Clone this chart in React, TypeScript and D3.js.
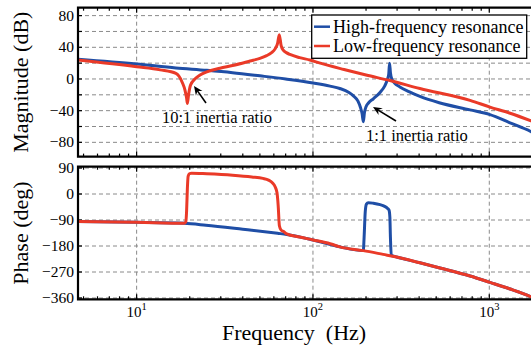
import React from "react";
import * as d3 from "d3";

// ---------- data ----------
const seriesNames = ["High-frequency resonance", "Low-frequency resonance"];
const seriesColors = ["#1f4ea6", "#ea3a28"];

const blueMagFreq = [4.64, 10, 16.7, 25, 35, 50, 70, 100, 125, 142, 160, 169, 180, 186, 190, 193, 196, 200, 207, 220, 240, 255, 264, 269, 272, 275, 280, 290, 311, 350, 404, 520, 778, 1009, 1300, 1726, 2070];
const blueMagDb = [25, 19, 14, 11, 8, 4, 0, -5, -9, -12, -17, -21, -28, -36, -44, -54, -42, -35, -30, -25, -17, -9, -1, 6, 20, 8, 0, -5, -10, -16, -22, -30, -39, -45, -55, -66.5, -76];

const redMagFreq = [4.64, 10, 13.6, 16.7, 18.2, 18.8, 19.2, 19.4, 19.7, 20.2, 21.4, 22.9, 25, 29.7, 35, 44, 50, 54.6, 58, 61, 63, 64.4, 66, 68, 71, 74, 84, 96, 110, 150, 200, 273, 404, 778, 1009, 1300, 1726, 2070];
const redMagDb = [24, 15.5, 11.5, 7, -5, -14, -24, -31, -20, -8, 0, 5, 9, 13.5, 17, 22.7, 26, 29.5, 33, 38, 45, 56, 42, 36, 33, 31, 27, 24, 20, 12, 5, -2, -12, -27, -35.5, -43, -53, -60];

const bluePhaseFreq = [4.64, 10, 18.6, 24.7, 40, 63, 71, 100, 142, 193, 195, 198, 201, 206, 220, 240, 255, 265, 270, 273, 275, 278, 283, 298, 404, 525, 778, 1009, 1300, 1726, 2070];
const bluePhaseDeg = [-95.5, -98, -101.5, -108, -122, -136, -140, -159, -183, -196, -150, -60, -35, -30, -32, -37, -43, -50, -56, -80, -150, -212, -214, -218, -238, -256, -284, -306, -328, -356, -380];

const redPhaseFreq = [4.64, 10, 18.6, 19.0, 19.2, 19.4, 19.6, 19.9, 20.5, 25, 35, 45, 52, 56, 59, 61, 62.5, 63.5, 64.5, 66, 68.2, 71, 84, 100, 125, 142, 193, 250, 298, 404, 525, 778, 1009, 1300, 1726, 2070];
const redPhaseDeg = [-95.5, -98, -101.5, -97, -60, 20, 62, 70, 72, 70, 65, 59, 54, 48, 38, 25, 5, -40, -110, -125, -130, -138, -149, -159, -172, -183, -196, -209, -218, -238, -256, -284, -306, -328, -356, -380];

const magTicks = [80, 40, 0, -40, -80];
const magGrid = [80, 60, 40, 20, 0, -20, -40, -60, -80];
const phaseTicks = [90, 0, -90, -180, -270, -360];
const xTickExps = [1, 2, 3];
const annotations = ["10:1 inertia ratio", "1:1 inertia ratio"];

// ---------- layout ----------
const W = 531, H = 347;
const X0 = 78, X1 = 545;
const MAG_TOP = 7.7, MAG_BOT = 156.6;
const PH_TOP = 166.7, PH_BOT = 299.3;

const x = d3.scaleLog().domain([Math.pow(10, 0.6675), Math.pow(10, 1 + (X1 - 136.7) / 176.3)]).range([X0, X1]);
const yMag = d3.scaleLinear().domain([-98, 90]).range([MAG_BOT, MAG_TOP]);
const yPh = d3.scaleLinear().domain([-364.5, 94.5]).range([PH_BOT, PH_TOP]);

const FONT = "'Liberation Serif', 'Times New Roman', serif";

function zip(f: number[], v: number[]): [number, number][] {
  return f.map((d, i) => [d, v[i]]);
}

function minorTicks(): number[] {
  const out: number[] = [];
  const [a, b] = x.domain();
  for (let e = 0; e <= 3; e++) {
    for (let m = 1; m <= 9; m++) {
      const v = m * Math.pow(10, e);
      if (v >= a && v <= b) out.push(v);
    }
  }
  return out;
}

function Panel({ top, bot, y, grid, lines }: { top: number; bot: number; y: d3.ScaleLinear<number, number>; grid: number[]; lines: { d: string; color: string }[] }) {
  const clipId = "clip" + Math.round(top);
  const mt = minorTicks();
  return (
    <g>
      <defs>
        <clipPath id={clipId}>
          <rect x={X0} y={top} width={X1 - X0} height={bot - top} />
        </clipPath>
      </defs>
      <rect x={X0} y={top} width={X1 - X0} height={bot - top} fill="#fff" />
      {grid.map((g) => (
        <line key={"h" + g} x1={X0} x2={X1} y1={y(g)} y2={y(g)} stroke="#8a8a8a" strokeWidth={1} strokeDasharray="4 3" />
      ))}
      {xTickExps.map((e) => (
        <line key={"v" + e} x1={x(Math.pow(10, e))} x2={x(Math.pow(10, e))} y1={top} y2={bot} stroke="#8a8a8a" strokeWidth={1} strokeDasharray="4 3" />
      ))}
      {mt.map((v, i) => {
        const major = Math.abs(Math.log10(v) - Math.round(Math.log10(v))) < 1e-9;
        const len = major ? 5 : 3;
        return (
          <g key={"t" + i}>
            <line x1={x(v)} x2={x(v)} y1={top} y2={top + len} stroke="#000" strokeWidth={1.2} />
            <line x1={x(v)} x2={x(v)} y1={bot} y2={bot - len} stroke="#000" strokeWidth={1.2} />
          </g>
        );
      })}
      {grid.map((g) => (
        <line key={"lt" + g} x1={X0} x2={X0 + 4} y1={y(g)} y2={y(g)} stroke="#000" strokeWidth={1.2} />
      ))}
      <g clipPath={`url(#${clipId})`}>
        {lines.map((l, i) => (
          <path key={i} d={l.d} fill="none" stroke={l.color} strokeWidth={3} strokeLinejoin="round" strokeLinecap="round" />
        ))}
      </g>
      <path d={`M${X1},${top}H${X0}V${bot}H${X1}`} fill="none" stroke="#000" strokeWidth={2.2} />
    </g>
  );
}

function Arrow({ x1, y1, x2, y2 }: { x1: number; y1: number; x2: number; y2: number }) {
  const ang = Math.atan2(y2 - y1, x2 - x1);
  const L = 9, Wd = 4;
  const bx = x2 - L * Math.cos(ang), by = y2 - L * Math.sin(ang);
  const px = -Math.sin(ang) * Wd, py = Math.cos(ang) * Wd;
  const nx = x2 - 6 * Math.cos(ang), ny = y2 - 6 * Math.sin(ang);
  return (
    <g>
      <line x1={x1} y1={y1} x2={nx} y2={ny} stroke="#000" strokeWidth={1.6} />
      <path d={`M${x2},${y2}L${bx + px},${by + py}L${nx},${ny}L${bx - px},${by - py}Z`} fill="#000" />
    </g>
  );
}

export default function App() {
  const lineMag = d3.line<[number, number]>().x((d) => x(d[0])).y((d) => yMag(d[1])).curve(d3.curveMonotoneX);
  const linePh = d3.line<[number, number]>().x((d) => x(d[0])).y((d) => yPh(d[1])).curve(d3.curveMonotoneX);

  const magLines = [
    { d: lineMag(zip(blueMagFreq, blueMagDb)) || "", color: seriesColors[0] },
    { d: lineMag(zip(redMagFreq, redMagDb)) || "", color: seriesColors[1] },
  ];
  const phLines = [
    { d: linePh(zip(bluePhaseFreq, bluePhaseDeg)) || "", color: seriesColors[0] },
    { d: linePh(zip(redPhaseFreq, redPhaseDeg)) || "", color: seriesColors[1] },
  ];

  const fmt = (v: number) => (v < 0 ? "\u2212" + Math.abs(v) : String(v));

  return (
    <svg width={W} height={H} style={{ position: "absolute", left: 0, top: 0, background: "#fff" }} fontFamily={FONT}>
      <Panel top={MAG_TOP} bot={MAG_BOT} y={yMag} grid={magGrid} lines={magLines} />
      <Panel top={PH_TOP} bot={PH_BOT} y={yPh} grid={phaseTicks} lines={phLines} />

      {magTicks.map((t) => (
        <text key={"m" + t} x={74} y={yMag(t) + 5} textAnchor="end" fontSize={15.5}>{fmt(t)}</text>
      ))}
      {phaseTicks.map((t) => (
        <text key={"p" + t} x={74} y={yPh(t) + 5} textAnchor="end" fontSize={15.5}>{fmt(t)}</text>
      ))}
      {xTickExps.map((e) => (
        <text key={"x" + e} x={x(Math.pow(10, e))} y={316.5} textAnchor="middle" fontSize={15}>
          10<tspan dy={-7} fontSize={10.5}>{e}</tspan>
        </text>
      ))}

      <text x={222} y={339.5} fontSize={22} style={{ whiteSpace: "pre" }}>{"Frequency  (Hz)"}</text>
      <text transform={`translate(28,${(MAG_TOP + MAG_BOT) / 2}) rotate(-90)`} textAnchor="middle" fontSize={22}>Magnitude (dB)</text>
      <text transform={`translate(28,${(PH_TOP + PH_BOT) / 2}) rotate(-90)`} textAnchor="middle" fontSize={22}>Phase (deg)</text>

      {/* legend */}
      <rect x={311.7} y={15} width={215} height={43.3} fill="#fff" stroke="#000" strokeWidth={1.3} />
      {seriesNames.map((n, i) => (
        <g key={n}>
          <line x1={314} x2={330} y1={26.7 + i * 19.3} y2={26.7 + i * 19.3} stroke={seriesColors[i]} strokeWidth={2.5} />
          <text x={333} y={32.8 + i * 19.3} fontSize={18}>{n}</text>
        </g>
      ))}

      {/* annotations */}
      <Arrow x1={206} y1={103} x2={194} y2={86} />
      <text x={162} y={123.3} fontSize={16.5}>{annotations[0]}</text>
      <Arrow x1={396} y1={121} x2={373} y2={107} />
      <text x={366} y={140.7} fontSize={16.5}>{annotations[1]}</text>
    </svg>
  );
}
